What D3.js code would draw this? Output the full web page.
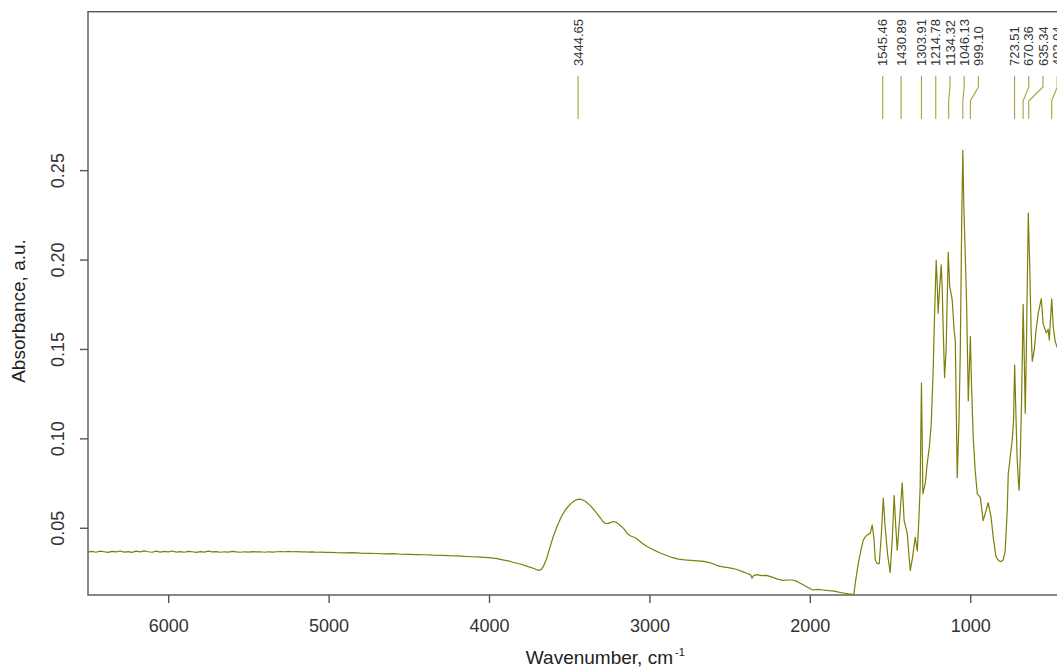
<!DOCTYPE html>
<html>
<head>
<meta charset="utf-8">
<script src="https://cdn.jsdelivr.net/npm/d3@7"></script>
<style>
  html, body { margin: 0; padding: 0; background: #fff; overflow: hidden; }
  svg { display: block; font-family: "Liberation Sans", Arial, sans-serif; }
</style>
</head>
<body>
<svg id="chart" width="1057" height="667"></svg>
<script>
// ---------- data ----------
const wavenumbers = [
  6500,6475,6450,6425,6400,6375,6350,6325,6300,6275,6250,6225,6200,6175,6150,6125,6100,6075,6050,6025,
  6000,5975,5950,5925,5900,5875,5850,5825,5800,5775,5750,5725,5700,5675,5650,5625,5600,5575,5550,5525,
  5500,5475,5450,5425,5400,5375,5350,5325,5300,5275,5250,5225,5200,5175,5150,5125,5100,5075,5050,5025,
  5000,4950,4900,4850,4800,4750,4700,4650,4600,4550,4500,4450,4400,4350,4300,4250,4200,4150,4100,4050,
  4000,3950,3900,3870,3850,3820,3800,3760,3720,3695,3675,3660,3640,3620,3600,3575,3550,3520,3490,3460,
  3440,3420,3400,3370,3340,3310,3290,3275,3260,3240,3225,3210,3190,3160,3140,3120,3100,3080,3060,3040,
  3020,3000,2970,2940,2900,2860,2820,2780,2740,2700,2660,2620,2580,2550,2500,2460,2420,2390,2370,2360,
  2350,2330,2300,2270,2240,2200,2170,2140,2110,2080,2050,2020,2000,1980,1950,1920,1880,1850,1820,1790,
  1760,1735,1725,1715,1698,1680,1667,1655,1642,1623,1611,1600,1592,1580,1567,1555,1542,1530,1515,1499,
  1487,1474,1465,1455,1440,1424,1412,1393,1374,1360,1343,1330,1320,1312,1304,1295,1280,1268,1255,1243,
  1231,1222,1212,1205,1200,1190,1181,1175,1168,1160,1150,1137,1128,1119,1112,1100,1093,1081,1070,1062,
  1052,1046,1040,1031,1022,1012,1005,999,992,981,969,956,937,919,888,870,857,840,826,810,
  794,782,769,763,750,738,730,723,717,708,700,695,688,680,670,662,657,650,638,630,
  620,613,600,590,576,557,545,526,514,507,492,482,470,458,440,420,400
];
const absorbance = [
  .0364,.0368,.0363,.0369,.0366,.0362,.0368,.0365,.0370,.0364,.0367,.0362,.0369,.0365,.0371,.0366,.0363,.0369,.0364,.0368,
  .0365,.0370,.0364,.0367,.0363,.0368,.0366,.0362,.0367,.0364,.0369,.0365,.0367,.0363,.0366,.0364,.0368,.0365,.0363,.0366,
  .0364,.0367,.0365,.0366,.0363,.0366,.0364,.0366,.0367,.0366,.0368,.0366,.0367,.0365,.0366,.0364,.0365,.0363,.0364,.0362,
  .0363,.0361,.0360,.0361,.0358,.0357,.0356,.0354,.0355,.0352,.0351,.0350,.0349,.0347,.0346,.0344,.0343,.0340,.0338,.0336,
  .0333,.0327,.0318,.0313,.0307,.0300,.0296,.0284,.0272,.0262,.0266,.0285,.0330,.0390,.0450,.0510,.0560,.0605,.0635,.0655,
  .0660,.0657,.0648,.0625,.0595,.0560,.0535,.0525,.0523,.0530,.0535,.0532,.0520,.0495,.0470,.0455,.0448,.0440,.0425,.0410,
  .0398,.0388,.0374,.0362,.0348,.0334,.0325,.0320,.0318,.0315,.0312,.0304,.0290,.0283,.0276,.0268,.0255,.0244,.0238,.0218,
  .0232,.0238,.0232,.0234,.0225,.0213,.0206,.0208,.0208,.0200,.0185,.0170,.0160,.0152,.0155,.0152,.0148,.0146,.0140,.0135,
  .0130,.0128,.0130,.0200,.0300,.0380,.0430,.0448,.0460,.0470,.0515,.0440,.0320,.0300,.0300,.0450,.0666,.0500,.0350,.0250,
  .0420,.0680,.0520,.0375,.0550,.0750,.0540,.0470,.0260,.0330,.0447,.0370,.0550,.0728,.1310,.0690,.0750,.0860,.0950,.1080,
  .1380,.1700,.1996,.1850,.1700,.1850,.1970,.1850,.1600,.1340,.1500,.2040,.1850,.1810,.1770,.1600,.1550,.0780,.1100,.1480,
  .2290,.2610,.2300,.2030,.1730,.1210,.1400,.1570,.1300,.1000,.0820,.0690,.0670,.0540,.0640,.0560,.0450,.0340,.0320,.0310,
  .0320,.0370,.0600,.0800,.0900,.0990,.1100,.1410,.1200,.0900,.0760,.0710,.0900,.1200,.1750,.1400,.1140,.1500,.2260,.2000,
  .1590,.1430,.1500,.1600,.1700,.1780,.1640,.1590,.1610,.1550,.1780,.1620,.1540,.1510,.1480,.1450,.1440
];
const peakWavenumbers = [3444.65,1545.46,1430.89,1303.91,1214.78,1134.32,1046.13,999.10,723.51,670.36,635.34,492.04];
const peakLabels = ["3444.65","1545.46","1430.89","1303.91","1214.78","1134.32","1046.13","999.10","723.51","670.36","635.34","492.04"];
const xTicks = [6000,5000,4000,3000,2000,1000];
const yTicks = [0.05,0.10,0.15,0.20,0.25];
const xTitle = "Wavenumber, cm";
const xTitleSup = "-1";
const yTitle = "Absorbance, a.u.";

// ---------- layout ----------
const svg = d3.select("#chart");
const plotLeft = 88, plotTop = 11.7, plotBottom = 595, plotRight = 1122.6;
const spectrumColor = "#7e7e08";
const peakColor = "#a3a33c";
const axisColor = "#555";
const textColor = "#333";

const x = d3.scaleLinear().domain([6500, 50]).range([plotLeft, plotRight]);
const y = d3.scaleLinear().domain([0.0124, 0.3386]).range([plotBottom, plotTop]);

// frame
svg.append("rect")
  .attr("x", plotLeft).attr("y", plotTop)
  .attr("width", plotRight - plotLeft).attr("height", plotBottom - plotTop)
  .attr("fill", "none").attr("stroke", axisColor).attr("stroke-width", 1.4);

// clip
svg.append("clipPath").attr("id", "plotclip")
  .append("rect").attr("x", plotLeft).attr("y", plotTop)
  .attr("width", plotRight - plotLeft).attr("height", plotBottom - plotTop);

// spectrum
const pts = wavenumbers.map((w, i) => [w, absorbance[i]]);
svg.append("path")
  .datum(pts)
  .attr("clip-path", "url(#plotclip)")
  .attr("fill", "none")
  .attr("stroke", spectrumColor)
  .attr("stroke-width", 1.2)
  .attr("stroke-linejoin", "round")
  .attr("d", d3.line().x(d => x(d[0])).y(d => y(d[1])));

// peak annotations (labels spread to avoid overlap)
const minGap = 14.2;
const peaks = peakWavenumbers.map((w, i) => ({ w, label: peakLabels[i], px: x(w) }))
  .sort((a, b) => a.px - b.px);
let prev = -Infinity;
peaks.forEach(p => { p.lx = Math.max(p.px, prev + minGap); prev = p.lx; });

const yLineTop = 76, yKink1 = 87, yKink2 = 101, yLineBot = 119, yText = 66;
const pg = svg.append("g");
pg.selectAll("path").data(peaks).join("path")
  .attr("fill", "none").attr("stroke", peakColor).attr("stroke-width", 1.1)
  .attr("d", p => `M${p.lx},${yLineTop}V${yKink1}L${p.px},${yKink2}V${yLineBot}`);
pg.selectAll("text").data(peaks).join("text")
  .attr("transform", p => `translate(${p.lx},${yText}) rotate(-90)`)
  .attr("dy", "0.36em")
  .attr("font-size", 13)
  .attr("fill", textColor)
  .text(p => p.label);

// x axis
const gx = svg.append("g").attr("transform", `translate(0,${plotBottom})`)
  .call(d3.axisBottom(x).tickValues(xTicks).tickSize(8).tickFormat(d3.format("d")));
gx.select(".domain").remove();
gx.selectAll(".tick line").attr("stroke", axisColor).attr("stroke-width", 1.4);
gx.selectAll(".tick text").attr("y", 37).attr("dy", 0)
  .attr("font-size", 18).attr("fill", textColor).attr("font-family", "Liberation Sans, Arial, sans-serif");

// y axis
const gy = svg.append("g").attr("transform", `translate(${plotLeft},0)`)
  .call(d3.axisLeft(y).tickValues(yTicks).tickSize(8).tickFormat(d3.format(".2f")));
gy.select(".domain").remove();
gy.selectAll(".tick line").attr("stroke", axisColor).attr("stroke-width", 1.4);
gy.selectAll(".tick text")
  .attr("transform", "rotate(-90)")
  .attr("x", 0).attr("y", -24).attr("dy", 0)
  .attr("text-anchor", "middle")
  .attr("font-size", 18).attr("fill", textColor).attr("font-family", "Liberation Sans, Arial, sans-serif");

// titles
const xt = svg.append("text")
  .attr("x", (plotLeft + plotRight) / 2).attr("y", 664)
  .attr("text-anchor", "middle")
  .attr("font-size", 19).attr("fill", "#222");
xt.append("tspan").text(xTitle);
xt.append("tspan").attr("font-size", 11).attr("dy", -8).attr("dx", 2).text(xTitleSup);

svg.append("text")
  .attr("transform", `translate(25,311) rotate(-90)`)
  .attr("text-anchor", "middle")
  .attr("font-size", 19).attr("fill", "#222")
  .text(yTitle);
</script>
</body>
</html>
